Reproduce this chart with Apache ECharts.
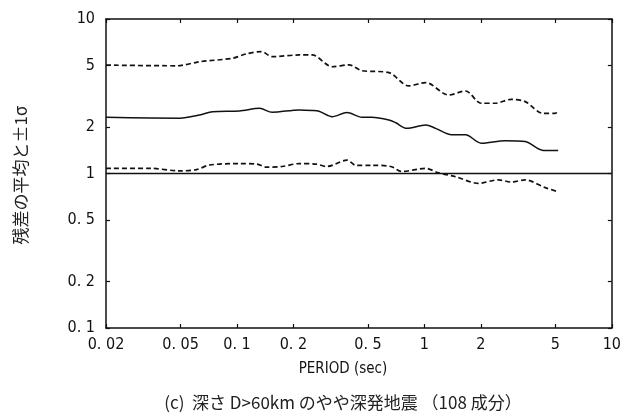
<!DOCTYPE html>
<html>
<head>
<meta charset="utf-8">
<script src="https://cdn.jsdelivr.net/npm/echarts@6/dist/echarts.min.js"></script>
<style>
html,body{margin:0;padding:0;background:#fff;}
#chart{width:624px;height:415px;}
</style>
</head>
<body>
<div id="chart"></div>
<script>
// ---- data ----
var meanPeriods  = [0.02, 0.0495, 0.0632, 0.0741, 0.103, 0.132, 0.154, 0.215, 0.252, 0.274, 0.322, 0.386, 0.464, 0.524, 0.646, 0.703, 0.805, 1.015, 1.148, 1.396, 1.657, 2.01, 2.70, 3.45, 4.30, 5.17];
var meanValues   = [2.31, 2.28, 2.39, 2.51, 2.54, 2.64, 2.49, 2.58, 2.56, 2.53, 2.33, 2.48, 2.31, 2.31, 2.22, 2.13, 1.96, 2.06, 1.96, 1.78, 1.78, 1.57, 1.63, 1.61, 1.41, 1.41];

var upperPeriods = [0.02, 0.0477, 0.0632, 0.0946, 0.112, 0.135, 0.154, 0.215, 0.252, 0.322, 0.396, 0.464, 0.646, 0.825, 1.015, 1.346, 1.657, 2.01, 2.39, 2.91, 3.45, 4.30, 4.98, 5.17];
var upperValues  = [5.03, 4.98, 5.29, 5.57, 5.94, 6.15, 5.70, 5.85, 5.85, 4.91, 5.05, 4.63, 4.50, 3.69, 3.88, 3.22, 3.42, 2.85, 2.85, 3.02, 2.92, 2.45, 2.45, 2.60];

var lowerPeriods = [0.02, 0.0343, 0.0495, 0.0609, 0.0714, 0.103, 0.128, 0.143, 0.174, 0.215, 0.264, 0.302, 0.386, 0.431, 0.524, 0.662, 0.757, 1.015, 1.19, 1.466, 1.94, 2.48, 2.91, 3.45, 4.41, 5.17];
var lowerValues  = [1.08, 1.08, 1.04, 1.06, 1.135, 1.16, 1.15, 1.10, 1.11, 1.16, 1.15, 1.11, 1.22, 1.13, 1.13, 1.11, 1.03, 1.08, 1.01, 0.953, 0.864, 0.91, 0.88, 0.91, 0.81, 0.762];

var unityPeriods = [0.02, 10];
var unityValues  = [1, 1];

var xTicks      = [0.02, 0.05, 0.1, 0.2, 0.5, 1, 2, 5, 10];
var xTickLabels = ["0. 02", "0. 05", "0. 1", "0. 2", "0. 5", "1", "2", "5", "10"];
var yTicks      = [0.1, 0.2, 0.5, 1, 2, 5, 10];
var yTickLabels = ["0. 1", "0. 2", "0. 5", "1", "2", "5", "10"];

var xAxisTitle = "PERIOD (sec)";
var yAxisTitle = "残差の平均と±1σ";
var caption    = "(c)  深さ D>60km のやや深発地震 （108 成分）";

// ---- helpers ----
function pairs(xs, ys){ return xs.map(function(x,i){ return [x, ys[i]]; }); }
function labelFor(ticks, labels){
  return function(v){
    for (var i=0;i<ticks.length;i++){ if (Math.abs(Math.log10(v)-Math.log10(ticks[i]))<1e-6) return labels[i]; }
    return '';
  };
}
var ink = '#111';
var tickFont = {fontFamily: '"DejaVu Sans Condensed", "DejaVu Sans", sans-serif', fontSize: 16, color: ink};

function xAx(pos, showLabel){
  return {
    type:'log', logBase:10, min:0.02, max:10, position:pos,
    axisLine:{show:true, onZero:false, lineStyle:{color:ink, width:1.5}},
    axisTick:{show:true, inside:true, length:4, customValues:xTicks, lineStyle:{color:ink, width:1.2}},
    axisLabel:Object.assign({show:showLabel, margin:9, customValues:xTicks, formatter:labelFor(xTicks,xTickLabels)}, tickFont),
    splitLine:{show:false}, minorTick:{show:false}
  };
}
function yAx(pos, showLabel){
  return {
    type:'log', logBase:10, min:0.1, max:10, position:pos,
    axisLine:{show:true, onZero:false, lineStyle:{color:ink, width:1.5}},
    axisTick:{show:true, inside:true, length:4, customValues:yTicks, lineStyle:{color:ink, width:1.2}},
    axisLabel:Object.assign({show:showLabel, margin:11, customValues:yTicks, formatter:labelFor(yTicks,yTickLabels)}, tickFont),
    splitLine:{show:false}, minorTick:{show:false}
  };
}

var chart = echarts.init(document.getElementById('chart'), null, {renderer:'canvas'});
var lineBase = {type:'line', xAxisIndex:0, yAxisIndex:0, showSymbol:false, symbol:'none', smooth:0.3, animation:false};

chart.setOption({
  backgroundColor:'#fff',
  animation:false,
  grid:{left:106, right:10, top:19, bottom:87, containLabel:false},
  xAxis:[xAx('bottom', true), xAx('top', false)],
  yAxis:[yAx('left', true), yAx('right', false)],
  series:[
    Object.assign({}, lineBase, {name:'mean', data:pairs(meanPeriods, meanValues), lineStyle:{color:ink, width:1.5, type:'solid'}}),
    Object.assign({}, lineBase, {name:'+1σ', data:pairs(upperPeriods, upperValues), lineStyle:{color:ink, width:1.7, type:[5,3]}}),
    Object.assign({}, lineBase, {name:'-1σ', data:pairs(lowerPeriods, lowerValues), lineStyle:{color:ink, width:1.7, type:[5,3]}}),
    Object.assign({}, lineBase, {name:'unity', smooth:false, data:pairs(unityPeriods, unityValues), lineStyle:{color:ink, width:1.5, type:'solid'}})
  ],
  graphic:[
    {type:'text', x:343, y:369, style:{text:xAxisTitle, fill:ink, font:'15px "DejaVu Sans Condensed", "DejaVu Sans", sans-serif', textAlign:'center', textVerticalAlign:'middle'}},
    {type:'text', x:343, y:403, style:{text:caption, fill:'#222', font:'17px "Noto Sans CJK JP", sans-serif', textAlign:'center', textVerticalAlign:'middle'}},
    {type:'text', x:21, y:175, rotation:Math.PI/2, style:{text:yAxisTitle, fill:'#222', font:'17px "Noto Sans CJK JP", sans-serif', textAlign:'center', textVerticalAlign:'middle'}}
  ]
});
</script>
</body>
</html>
